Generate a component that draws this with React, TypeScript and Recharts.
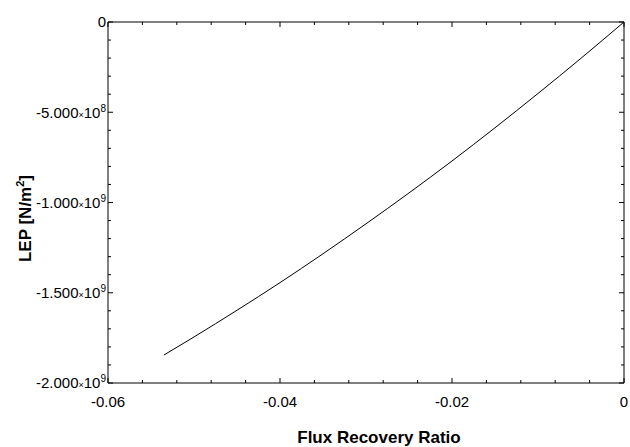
import React from 'react';
import { LineChart, Line, XAxis, YAxis, Label } from 'recharts';

// Flux recovery ratio (x) vs LEP in N/m^2 (y)
const fluxRatio = [-0.0535, -0.05, -0.045, -0.04, -0.035, -0.03, -0.025, -0.02, -0.015, -0.01, -0.005, 0];
const lepValues = [-1.845e9, -1.745e9, -1.597e9, -1.444e9, -1.284e9, -1.118e9, -9.47e8, -7.7e8, -5.86e8, -3.96e8, -2.01e8, 0];

// tick positions (major + minor)
const xTicks = [-0.06, -0.056, -0.052, -0.048, -0.044, -0.04, -0.036, -0.032, -0.028, -0.024, -0.02, -0.016, -0.012, -0.008, -0.004, 0];
const xMajorTicks = [-0.06, -0.04, -0.02, 0];
const xMajorLabels = ['-0.06', '-0.04', '-0.02', '0'];

const yTicks = [0, -1e8, -2e8, -3e8, -4e8, -5e8, -6e8, -7e8, -8e8, -9e8, -1e9, -1.1e9, -1.2e9, -1.3e9, -1.4e9, -1.5e9, -1.6e9, -1.7e9, -1.8e9, -1.9e9, -2e9];
const yMajorTicks = [0, -5e8, -1e9, -1.5e9, -2e9];
const yMajorMantissa = ['0', '-5.000', '-1.000', '-1.500', '-2.000'];
const yMajorExponent = ['', '8', '9', '9', '9'];

const data = fluxRatio.map((x, i) => ({ x, lep: lepValues[i] }));

const FONT = 'Arial, "Liberation Sans", sans-serif';
const MAJOR_LEN = 5;
const MINOR_LEN = 3;

const isMajorX = (v: number) => xMajorTicks.findIndex(m => Math.abs(m - v) < 1e-9);
const isMajorY = (v: number) => yMajorTicks.findIndex(m => Math.abs(m - v) < 1);

function BottomTick(props: any) {
  const { x, y, payload } = props;
  const idx = isMajorX(payload.value);
  const len = idx >= 0 ? MAJOR_LEN : MINOR_LEN;
  return (
    <g>
      <line x1={x} y1={y} x2={x} y2={y - len} stroke="#000" />
      {idx >= 0 && (
        <text x={x} y={y + 24} textAnchor="middle" fontSize={15} fontFamily={FONT} fill="#000">
          {xMajorLabels[idx]}
        </text>
      )}
    </g>
  );
}

function TopTick(props: any) {
  const { x, y, payload } = props;
  const len = isMajorX(payload.value) >= 0 ? MAJOR_LEN : MINOR_LEN;
  return <line x1={x} y1={y} x2={x} y2={y + len} stroke="#000" />;
}

function LeftTick(props: any) {
  const { x, y, payload } = props;
  const idx = isMajorY(payload.value);
  const len = idx >= 0 ? MAJOR_LEN : MINOR_LEN;
  return (
    <g>
      <line x1={x} y1={y} x2={x + len} y2={y} stroke="#000" />
      {idx >= 0 && (
        <text x={x - 2} y={y} dy="0.35em" textAnchor="end" fontSize={15} fontFamily={FONT} fill="#000">
          <tspan>{yMajorMantissa[idx]}</tspan>
          {yMajorExponent[idx] && (
            <>
              <tspan fontSize={9}>×</tspan>
              <tspan>10</tspan>
              <tspan fontSize={10} dy={-6}>{yMajorExponent[idx]}</tspan>
            </>
          )}
        </text>
      )}
    </g>
  );
}

function RightTick(props: any) {
  const { x, y, payload } = props;
  const len = isMajorY(payload.value) >= 0 ? MAJOR_LEN : MINOR_LEN;
  return <line x1={x} y1={y} x2={x - len} y2={y} stroke="#000" />;
}

function YTitle(props: any) {
  const { viewBox } = props;
  const cx = viewBox.x + 25;
  const cy = viewBox.y + viewBox.height / 2 + 16;
  return (
    <text
      x={cx}
      y={cy}
      transform={`rotate(-90 ${cx} ${cy})`}
      textAnchor="middle"
      dy="0.35em"
      fontSize={17}
      fontWeight="bold"
      fontFamily={FONT}
      fill="#000"
    >
      <tspan>LEP [N/m</tspan>
      <tspan fontSize={11} dy={-7}>2</tspan>
      <tspan dy={7}>]</tspan>
    </text>
  );
}

function XTitle(props: any) {
  const { viewBox } = props;
  return (
    <text
      x={viewBox.x + viewBox.width / 2 + 13}
      y={443}
      textAnchor="middle"
      fontSize={17}
      fontWeight="bold"
      fontFamily={FONT}
      fill="#000"
    >
      Flux Recovery Ratio
    </text>
  );
}

export default function App() {
  return (
    <div style={{ position: 'absolute', left: 0, top: 0, background: '#fff' }}>
      <LineChart width={630} height={447} data={data} margin={{ top: 21, right: 5, bottom: 0, left: 0 }}>
        <XAxis
          dataKey="x"
          type="number"
          domain={[-0.06, 0]}
          ticks={xTicks}
          interval={0}
          height={64}
          tickSize={0}
          tickMargin={0}
          tickLine={false}
          axisLine={{ stroke: '#000' }}
          tick={<BottomTick />}
        >
          <Label content={<XTitle />} />
        </XAxis>
        <XAxis
          xAxisId="top"
          dataKey="x"
          orientation="top"
          type="number"
          domain={[-0.06, 0]}
          ticks={xTicks}
          interval={0}
          height={1}
          tickSize={0}
          tickMargin={0}
          tickLine={false}
          axisLine={{ stroke: '#000' }}
          tick={<TopTick />}
        />
        <YAxis
          type="number"
          domain={[-2e9, 0]}
          ticks={yTicks}
          interval={0}
          width={108}
          tickSize={0}
          tickMargin={0}
          tickLine={false}
          axisLine={{ stroke: '#000' }}
          tick={<LeftTick />}
        >
          <Label content={<YTitle />} />
        </YAxis>
        <YAxis
          yAxisId="right"
          orientation="right"
          type="number"
          domain={[-2e9, 0]}
          ticks={yTicks}
          interval={0}
          width={1}
          tickSize={0}
          tickMargin={0}
          tickLine={false}
          axisLine={{ stroke: '#000' }}
          tick={<RightTick />}
        />
        <Line
          dataKey="lep"
          type="monotone"
          stroke="#000"
          strokeWidth={1}
          dot={false}
          isAnimationActive={false}
        />
        {/* invisible copy so the mirrored frame axes get drawn */}
        <Line
          xAxisId="top"
          yAxisId="right"
          dataKey="lep"
          stroke="none"
          dot={false}
          activeDot={false}
          legendType="none"
          isAnimationActive={false}
        />
      </LineChart>
    </div>
  );
}
